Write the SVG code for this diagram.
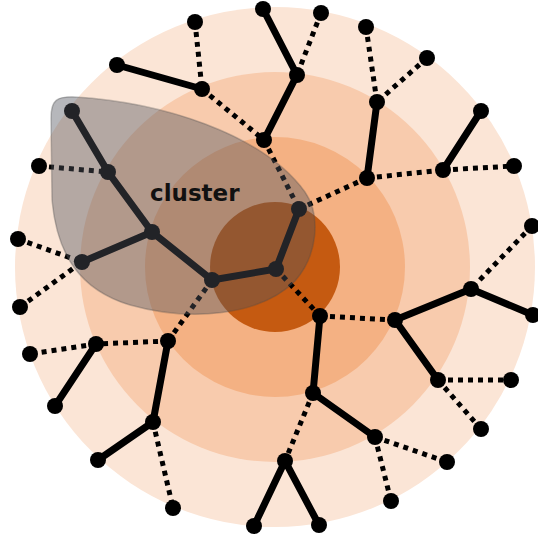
<svg xmlns="http://www.w3.org/2000/svg" width="538" height="538" viewBox="0 0 538 538">
  <style>
    .solid { stroke: #000; stroke-width: 7; stroke-linecap: round; fill: none; }
    .dot { stroke: #000; stroke-width: 5; stroke-dasharray: 5 5; fill: none; }
    .node { fill: #000; }
    .label { font-family: "DejaVu Sans", Verdana, sans-serif; font-weight: bold; font-size: 23px; fill: #111; }
  </style>

  <!-- concentric zones -->
  <g id="zones">
    <circle cx="275" cy="267" r="260" fill="#FBE5D6"/>
    <circle cx="275" cy="267" r="195" fill="#F8CBAD"/>
    <circle cx="275" cy="267" r="130" fill="#F4B183"/>
    <circle cx="275" cy="267" r="65" fill="#C55A11"/>
  </g>

  <!-- connectors -->
  <g id="connectors">
    <!-- solid links -->
    <line class="solid" x1="263" y1="9" x2="297" y2="75"/>
    <line class="solid" x1="297" y1="75" x2="264" y2="140"/>
    <line class="solid" x1="117" y1="65" x2="202" y2="89"/>
    <line class="solid" x1="377" y1="102" x2="367" y2="178"/>
    <line class="solid" x1="481" y1="111" x2="443" y2="170"/>
    <line class="solid" x1="72" y1="111" x2="108" y2="172"/>
    <line class="solid" x1="108" y1="172" x2="152" y2="232"/>
    <line class="solid" x1="152" y1="232" x2="82" y2="262"/>
    <line class="solid" x1="152" y1="232" x2="212" y2="280"/>
    <line class="solid" x1="212" y1="280" x2="276" y2="269"/>
    <line class="solid" x1="276" y1="269" x2="299" y2="209"/>
    <line class="solid" x1="320" y1="316" x2="313" y2="393"/>
    <line class="solid" x1="313" y1="393" x2="375" y2="437"/>
    <line class="solid" x1="395" y1="320" x2="471" y2="289"/>
    <line class="solid" x1="471" y1="289" x2="533" y2="315"/>
    <line class="solid" x1="395" y1="320" x2="438" y2="380"/>
    <line class="solid" x1="168" y1="341" x2="153" y2="422"/>
    <line class="solid" x1="153" y1="422" x2="98" y2="460"/>
    <line class="solid" x1="96" y1="344" x2="55" y2="406"/>
    <line class="solid" x1="285" y1="461" x2="254" y2="526"/>
    <line class="solid" x1="285" y1="461" x2="319" y2="525"/>
    <!-- dotted links -->
    <line class="dot" x1="195" y1="22" x2="202" y2="89"/>
    <line class="dot" x1="321" y1="13" x2="297" y2="75"/>
    <line class="dot" x1="202" y1="89" x2="264" y2="140"/>
    <line class="dot" x1="264" y1="140" x2="299" y2="209"/>
    <line class="dot" x1="366" y1="27" x2="377" y2="102"/>
    <line class="dot" x1="427" y1="58" x2="377" y2="102"/>
    <line class="dot" x1="367" y1="178" x2="443" y2="170"/>
    <line class="dot" x1="443" y1="170" x2="514" y2="166"/>
    <line class="dot" x1="367" y1="178" x2="299" y2="209"/>
    <line class="dot" x1="532" y1="226" x2="471" y2="289"/>
    <line class="dot" x1="39" y1="166" x2="108" y2="172"/>
    <line class="dot" x1="18" y1="239" x2="82" y2="262"/>
    <line class="dot" x1="20" y1="307" x2="82" y2="262"/>
    <line class="dot" x1="212" y1="280" x2="168" y2="341"/>
    <line class="dot" x1="168" y1="341" x2="96" y2="344"/>
    <line class="dot" x1="96" y1="344" x2="30" y2="354"/>
    <line class="dot" x1="276" y1="269" x2="320" y2="316"/>
    <line class="dot" x1="320" y1="316" x2="395" y2="320"/>
    <line class="dot" x1="438" y1="380" x2="511" y2="380"/>
    <line class="dot" x1="438" y1="380" x2="481" y2="429"/>
    <line class="dot" x1="375" y1="437" x2="447" y2="462"/>
    <line class="dot" x1="375" y1="437" x2="391" y2="501"/>
    <line class="dot" x1="313" y1="393" x2="285" y2="461"/>
    <line class="dot" x1="153" y1="422" x2="173" y2="508"/>
  </g>

  <!-- nodes -->
  <g id="n1"><circle class="node" cx="195" cy="22" r="8"/></g>
  <g id="n2"><circle class="node" cx="263" cy="9" r="8"/></g>
  <g id="n3"><circle class="node" cx="321" cy="13" r="8"/></g>
  <g id="n4"><circle class="node" cx="366" cy="27" r="8"/></g>
  <g id="n5"><circle class="node" cx="427" cy="58" r="8"/></g>
  <g id="n6"><circle class="node" cx="117" cy="65" r="8"/></g>
  <g id="n7"><circle class="node" cx="202" cy="89" r="8"/></g>
  <g id="n8"><circle class="node" cx="297" cy="75" r="8"/></g>
  <g id="n9"><circle class="node" cx="377" cy="102" r="8"/></g>
  <g id="n10"><circle class="node" cx="481" cy="111" r="8"/></g>
  <g id="n11"><circle class="node" cx="72" cy="111" r="8"/></g>
  <g id="n12"><circle class="node" cx="264" cy="140" r="8"/></g>
  <g id="n13"><circle class="node" cx="39" cy="166" r="8"/></g>
  <g id="n14"><circle class="node" cx="108" cy="172" r="8"/></g>
  <g id="n15"><circle class="node" cx="443" cy="170" r="8"/></g>
  <g id="n16"><circle class="node" cx="367" cy="178" r="8"/></g>
  <g id="n17"><circle class="node" cx="514" cy="166" r="8"/></g>
  <g id="n18"><circle class="node" cx="299" cy="209" r="8"/></g>
  <g id="n19"><circle class="node" cx="532" cy="226" r="8"/></g>
  <g id="n20"><circle class="node" cx="18" cy="239" r="8"/></g>
  <g id="n21"><circle class="node" cx="152" cy="232" r="8"/></g>
  <g id="n22"><circle class="node" cx="82" cy="262" r="8"/></g>
  <g id="n23"><circle class="node" cx="276" cy="269" r="8"/></g>
  <g id="n24"><circle class="node" cx="212" cy="280" r="8"/></g>
  <g id="n25"><circle class="node" cx="471" cy="289" r="8"/></g>
  <g id="n26"><circle class="node" cx="20" cy="307" r="8"/></g>
  <g id="n27"><circle class="node" cx="320" cy="316" r="8"/></g>
  <g id="n28"><circle class="node" cx="395" cy="320" r="8"/></g>
  <g id="n29"><circle class="node" cx="533" cy="315" r="8"/></g>
  <g id="n30"><circle class="node" cx="168" cy="341" r="8"/></g>
  <g id="n31"><circle class="node" cx="96" cy="344" r="8"/></g>
  <g id="n32"><circle class="node" cx="30" cy="354" r="8"/></g>
  <g id="n33"><circle class="node" cx="438" cy="380" r="8"/></g>
  <g id="n34"><circle class="node" cx="511" cy="380" r="8"/></g>
  <g id="n35"><circle class="node" cx="313" cy="393" r="8"/></g>
  <g id="n36"><circle class="node" cx="55" cy="406" r="8"/></g>
  <g id="n37"><circle class="node" cx="153" cy="422" r="8"/></g>
  <g id="n38"><circle class="node" cx="375" cy="437" r="8"/></g>
  <g id="n39"><circle class="node" cx="481" cy="429" r="8"/></g>
  <g id="n40"><circle class="node" cx="98" cy="460" r="8"/></g>
  <g id="n41"><circle class="node" cx="285" cy="461" r="8"/></g>
  <g id="n42"><circle class="node" cx="447" cy="462" r="8"/></g>
  <g id="n43"><circle class="node" cx="391" cy="501" r="8"/></g>
  <g id="n44"><circle class="node" cx="173" cy="508" r="8"/></g>
  <g id="n45"><circle class="node" cx="254" cy="526" r="8"/></g>
  <g id="n46"><circle class="node" cx="319" cy="525" r="8"/></g>

  <!-- translucent cluster region -->
  <g id="cluster">
    <path d="M 51,118 C 51,100 57,96 75,97 C 160,102 262,133 305,192 C 321,215 318,255 295,281 C 260,316 190,322 130,305 C 80,290 57,255 52,200 Z"
          fill="#50545E" fill-opacity="0.42" stroke="#4a4a4a" stroke-opacity="0.3" stroke-width="1.5"/>
    <text class="label" x="150" y="201">cluster</text>
  </g>
</svg>
